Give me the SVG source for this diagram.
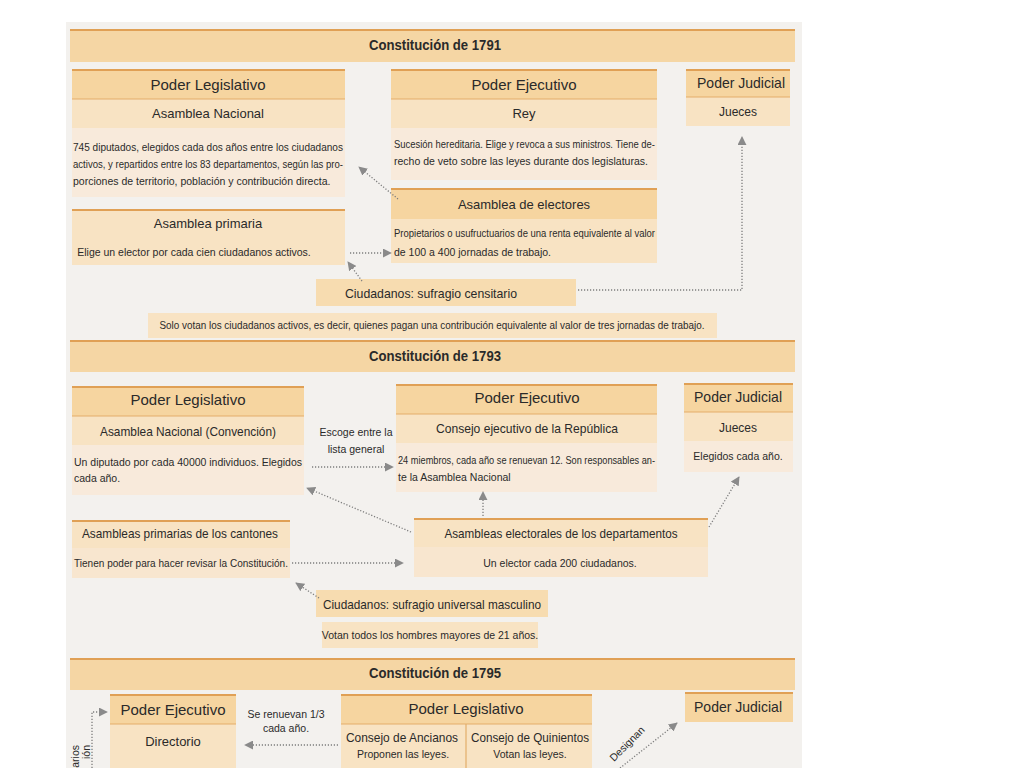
<svg xmlns="http://www.w3.org/2000/svg" width="1024" height="768" viewBox="0 0 1024 768">
<defs>
<style>
.page{fill:#f3f1ee}
.ban{fill:#f5d6a4}
.hdr{fill:#f6d5a0}
.sub{fill:#f8e3c3}
.bod{fill:#f8eadb}
.ol{stroke:#e0a055;stroke-width:2;fill:none}
.ol1{stroke:#e3ad6a;stroke-width:1.2;fill:none}
text{font-family:"Liberation Sans","DejaVu Sans",sans-serif;fill:#2a2a2a}
.tt{font-size:15px;font-weight:bold;text-anchor:middle}
.th{font-size:15px;text-anchor:middle}
.ts{font-size:13px;text-anchor:middle}
.tb{font-size:10.5px}
.tbc{font-size:10.5px;text-anchor:middle}
.conn{stroke:#7d7d7d;stroke-width:1.3;stroke-dasharray:1.2 1.8;fill:none}
</style>
<marker id="ah" viewBox="0 0 10 10" refX="9" refY="5" markerWidth="9" markerHeight="9" markerUnits="userSpaceOnUse" orient="auto">
<path d="M0,0 L10,5 L0,10 z" fill="#8a8a8a"/>
</marker>
</defs>
<rect width="1024" height="768" fill="#ffffff"/>
<rect class="page" x="66" y="22" width="736" height="746"/>

<!-- ===== 1791 ===== -->
<g id="banner1791">
<rect class="ban" x="70" y="29" width="725" height="33"/>
<line class="ol" x1="70" y1="30" x2="795" y2="30"/>
<text class="tt" x="435" y="50" textLength="132" lengthAdjust="spacingAndGlyphs">Constitución de 1791</text>
</g>
<g id="legislativo1791">
<rect class="hdr" x="72" y="69" width="273" height="30"/>
<rect class="sub" x="72" y="99" width="273" height="29"/>
<rect class="bod" x="72" y="128" width="273" height="69"/>
<line class="ol" x1="72" y1="70" x2="345" y2="70"/>
<line class="ol1" x1="72" y1="99" x2="345" y2="99"/>
<text class="th" x="208" y="90">Poder Legislativo</text>
<text class="ts" x="208" y="118">Asamblea Nacional</text>
<text class="tb" x="73" y="151" textLength="270" lengthAdjust="spacingAndGlyphs">745 diputados, elegidos cada dos años entre los ciudadanos</text>
<text class="tb" x="73" y="168" textLength="270" lengthAdjust="spacingAndGlyphs">activos, y repartidos entre los 83 departamentos, según las pro-</text>
<text class="tb" x="73" y="185">porciones de territorio, población y contribución directa.</text>
</g>
<g id="ejecutivo1791">
<rect class="hdr" x="391" y="69" width="266" height="30"/>
<rect class="sub" x="391" y="99" width="266" height="29"/>
<rect class="bod" x="391" y="128" width="266" height="52"/>
<line class="ol" x1="391" y1="70" x2="657" y2="70"/>
<line class="ol1" x1="391" y1="99" x2="657" y2="99"/>
<text class="th" x="524" y="90">Poder Ejecutivo</text>
<text class="ts" x="524" y="118">Rey</text>
<text class="tb" x="394" y="148" textLength="261" lengthAdjust="spacingAndGlyphs">Sucesión hereditaria. Elige y revoca a sus ministros. Tiene de-</text>
<text class="tb" x="394" y="165">recho de veto sobre las leyes durante dos legislaturas.</text>
</g>
<g id="judicial1791">
<rect class="hdr" x="686" y="69" width="104" height="28"/>
<rect class="sub" x="686" y="97" width="104" height="29"/>
<line class="ol" x1="686" y1="70" x2="790" y2="70"/>
<line class="ol1" x1="686" y1="97" x2="790" y2="97"/>
<text class="th" x="741" y="88" textLength="88" lengthAdjust="spacingAndGlyphs">Poder Judicial</text>
<text class="ts" x="738" y="116" style="font-size:12px">Jueces</text>
</g>
<g id="electores1791">
<rect class="hdr" x="391" y="188" width="266" height="31"/>
<rect class="sub" x="391" y="219" width="266" height="44"/>
<line class="ol" x1="391" y1="189" x2="657" y2="189"/>
<text class="ts" x="524" y="209">Asamblea de electores</text>
<text class="tb" x="394" y="237" textLength="261" lengthAdjust="spacingAndGlyphs">Propietarios o usufructuarios de una renta equivalente al valor</text>
<text class="tb" x="394" y="256">de 100 a 400 jornadas de trabajo.</text>
</g>
<g id="primaria1791">
<rect class="sub" x="72" y="209" width="273" height="56"/>
<line class="ol" x1="72" y1="210" x2="345" y2="210"/>
<text class="ts" x="208" y="228">Asamblea primaria</text>
<text class="tbc" x="194" y="256">Elige un elector por cada cien ciudadanos activos.</text>
</g>
<g id="ciudadanos1791">
<rect class="hdr" x="316" y="279" width="260" height="27" style="fill:#f7dcb0"/>
<text class="ts" x="431" y="298" textLength="172" lengthAdjust="spacingAndGlyphs">Ciudadanos: sufragio censitario</text>
</g>
<g id="nota1791">
<rect class="sub" x="148" y="313" width="569" height="25"/>
<text class="tbc" x="432" y="329" textLength="545" lengthAdjust="spacingAndGlyphs">Solo votan los ciudadanos activos, es decir, quienes pagan una contribución equivalente al valor de tres jornadas de trabajo.</text>
</g>

<!-- ===== 1793 ===== -->
<g id="banner1793">
<rect class="ban" x="70" y="340" width="725" height="32"/>
<line class="ol" x1="70" y1="341" x2="795" y2="341"/>
<text class="tt" x="435" y="361" textLength="132" lengthAdjust="spacingAndGlyphs">Constitución de 1793</text>
</g>
<g id="legislativo1793">
<rect class="hdr" x="72" y="386" width="232" height="30"/>
<rect class="sub" x="72" y="416" width="232" height="29"/>
<rect class="bod" x="72" y="445" width="232" height="50"/>
<line class="ol" x1="72" y1="387" x2="304" y2="387"/>
<line class="ol1" x1="72" y1="416" x2="304" y2="416"/>
<text class="th" x="188" y="405">Poder Legislativo</text>
<text class="ts" x="188" y="436" textLength="176" lengthAdjust="spacingAndGlyphs">Asamblea Nacional (Convención)</text>
<text class="tb" x="74" y="466" textLength="228" lengthAdjust="spacingAndGlyphs">Un diputado por cada 40000 individuos. Elegidos</text>
<text class="tb" x="74" y="482">cada año.</text>
</g>
<g id="escoge1793">
<text class="tbc" x="356" y="436">Escoge entre la</text>
<text class="tbc" x="356" y="453">lista general</text>
</g>
<g id="ejecutivo1793">
<rect class="hdr" x="396" y="384" width="261" height="30"/>
<rect class="sub" x="396" y="414" width="261" height="29"/>
<rect class="bod" x="396" y="443" width="261" height="49"/>
<line class="ol" x1="396" y1="385" x2="657" y2="385"/>
<line class="ol1" x1="396" y1="414" x2="657" y2="414"/>
<text class="th" x="527" y="403">Poder Ejecutivo</text>
<text class="ts" x="527" y="433" textLength="182" lengthAdjust="spacingAndGlyphs">Consejo ejecutivo de la República</text>
<text class="tb" x="398" y="464" textLength="257" lengthAdjust="spacingAndGlyphs">24 miembros, cada año se renuevan 12. Son responsables an-</text>
<text class="tb" x="398" y="481">te la Asamblea Nacional</text>
</g>
<g id="judicial1793">
<rect class="hdr" x="684" y="383" width="109" height="29"/>
<rect class="sub" x="684" y="412" width="109" height="29"/>
<rect class="bod" x="684" y="441" width="109" height="31"/>
<line class="ol" x1="684" y1="384" x2="793" y2="384"/>
<line class="ol1" x1="684" y1="412" x2="793" y2="412"/>
<text class="th" x="738" y="402" textLength="88" lengthAdjust="spacingAndGlyphs">Poder Judicial</text>
<text class="ts" x="738" y="432" style="font-size:12px">Jueces</text>
<text class="tbc" x="738" y="460">Elegidos cada año.</text>
</g>
<g id="primarias1793">
<rect class="sub" x="72" y="520" width="218" height="28"/>
<rect class="bod" x="72" y="548" width="218" height="30" style="fill:#f8e6cf"/>
<line class="ol" x1="72" y1="521" x2="290" y2="521"/>
<text class="ts" x="180" y="538" textLength="196" lengthAdjust="spacingAndGlyphs">Asambleas primarias de los cantones</text>
<text class="tb" x="74" y="567" textLength="214" lengthAdjust="spacingAndGlyphs">Tienen poder para hacer revisar la Constitución.</text>
</g>
<g id="electorales1793">
<rect class="sub" x="414" y="518" width="294" height="29"/>
<rect class="bod" x="414" y="547" width="294" height="30" style="fill:#f8e6cf"/>
<line class="ol" x1="414" y1="519" x2="708" y2="519"/>
<text class="ts" x="561" y="538" textLength="233" lengthAdjust="spacingAndGlyphs">Asambleas electorales de los departamentos</text>
<text class="tbc" x="560" y="567">Un elector cada 200 ciudadanos.</text>
</g>
<g id="ciudadanos1793">
<rect class="hdr" x="316" y="590" width="232" height="27" style="fill:#f7dcb0"/>
<text class="ts" x="432" y="609" textLength="218" lengthAdjust="spacingAndGlyphs">Ciudadanos: sufragio universal masculino</text>
</g>
<g id="nota1793">
<rect class="sub" x="322" y="622" width="216" height="26"/>
<text class="tbc" x="430" y="639">Votan todos los hombres mayores de 21 años.</text>
</g>

<!-- ===== 1795 ===== -->
<g id="banner1795">
<rect class="ban" x="70" y="658" width="725" height="32"/>
<line class="ol" x1="70" y1="659" x2="795" y2="659"/>
<text class="tt" x="435" y="678" textLength="132" lengthAdjust="spacingAndGlyphs">Constitución de 1795</text>
</g>
<g id="ejecutivo1795">
<rect class="hdr" x="110" y="694" width="126" height="30"/>
<rect class="sub" x="110" y="724" width="126" height="44"/>
<line class="ol" x1="110" y1="695" x2="236" y2="695"/>
<line class="ol1" x1="110" y1="724" x2="236" y2="724"/>
<text class="th" x="173" y="715">Poder Ejecutivo</text>
<text class="ts" x="173" y="746">Directorio</text>
</g>
<g id="renuevan1795">
<text class="tbc" x="286" y="718">Se renuevan 1/3</text>
<text class="tbc" x="286" y="732">cada año.</text>
</g>
<g id="legislativo1795">
<rect class="hdr" x="341" y="694" width="251" height="30"/>
<rect class="sub" x="341" y="724" width="251" height="44"/>
<line class="ol" x1="341" y1="695" x2="592" y2="695"/>
<line class="ol1" x1="341" y1="724" x2="592" y2="724"/>
<line class="ol1" x1="466" y1="724" x2="466" y2="768"/>
<text class="th" x="466" y="714">Poder Legislativo</text>
<text class="ts" x="402" y="742" textLength="112" lengthAdjust="spacingAndGlyphs">Consejo de Ancianos</text>
<text class="tbc" x="403" y="758">Proponen las leyes.</text>
<text class="ts" x="530" y="742" textLength="118" lengthAdjust="spacingAndGlyphs">Consejo de Quinientos</text>
<text class="tbc" x="530" y="758">Votan las leyes.</text>
</g>
<g id="judicial1795">
<rect class="hdr" x="685" y="692" width="108" height="30"/>
<line class="ol" x1="685" y1="693" x2="793" y2="693"/>
<text class="th" x="738" y="712" textLength="88" lengthAdjust="spacingAndGlyphs">Poder Judicial</text>
</g>
<g id="fragmentos1795">
<text class="tb" text-anchor="end" transform="translate(79,745) rotate(-90)">arios</text>
<text class="tb" text-anchor="end" transform="translate(90,745) rotate(-90)">ión</text>
<text class="tb" transform="translate(614,762) rotate(-45)">Designan</text>
</g>

<!-- ===== Connectors ===== -->
<g id="connectors">
<line class="conn" x1="398" y1="199" x2="359" y2="167" marker-end="url(#ah)"/>
<line class="conn" x1="350" y1="253" x2="391" y2="253" marker-end="url(#ah)"/>
<line class="conn" x1="362" y1="281" x2="348" y2="262" marker-end="url(#ah)"/>
<polyline class="conn" points="578,290 742,290 742,137" marker-end="url(#ah)"/>
<line class="conn" x1="312" y1="467" x2="393" y2="467" marker-end="url(#ah)"/>
<line class="conn" x1="483" y1="516" x2="483" y2="492" marker-end="url(#ah)"/>
<line class="conn" x1="411" y1="532" x2="307" y2="488" marker-end="url(#ah)"/>
<line class="conn" x1="709" y1="527" x2="739" y2="477" marker-end="url(#ah)"/>
<line class="conn" x1="292" y1="563" x2="403" y2="563" marker-end="url(#ah)"/>
<line class="conn" x1="319" y1="598" x2="296" y2="583" marker-end="url(#ah)"/>
<polyline class="conn" points="92,768 92,712 107,712" marker-end="url(#ah)"/>
<line class="conn" x1="338" y1="745" x2="245" y2="745" marker-end="url(#ah)"/>
<line class="conn" x1="620" y1="768" x2="677" y2="723" marker-end="url(#ah)"/>
</g>
</svg>
